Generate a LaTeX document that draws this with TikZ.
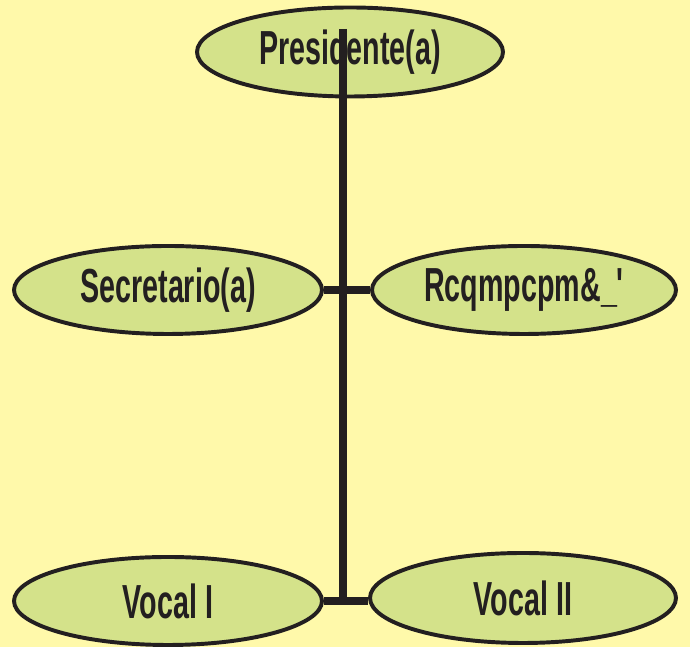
\documentclass[tikz,border=0pt]{standalone}
\usepackage{fontspec}
\newfontfamily\orgfont[FakeStretch=0.6]{Liberation Sans}
\definecolor{bgyellow}{RGB}{255,249,170}
\definecolor{orggreen}{RGB}{212,226,138}
\definecolor{orgline}{RGB}{35,31,32}
\usetikzlibrary{shapes.geometric}

\begin{document}
\begin{tikzpicture}[
    cargo/.style={draw=orgline, line width=2.8pt, fill=orggreen, ellipse, inner sep=0pt,
      minimum width=7.65cm, minimum height=2.2cm, font=\orgfont\fontsize{34}{36}\selectfont\bfseries, text=orgline},
    enlace/.style={draw=orgline, line width=5pt}
  ]
  % Background
  \fill[bgyellow] (0,0) rectangle (17.25,16.175);
  \useasboundingbox (0,0) rectangle (17.25,16.175);

  % Cargos
  \node[cargo, minimum height=2.225cm] (pres) at (8.75,14.875) {Presidente(a)};
  \node[cargo, minimum width=7.7cm] (secr) at (4.2,8.925) {Secretario(a)};
  \node[cargo, minimum width=7.6cm] (teso) at (13.1,8.925) {Rcqmpcpm\&\_'};
  \node[cargo, minimum width=7.7cm] (voca) at (4.2,1.15) {Vocal I};
  \node[cargo, minimum height=2.25cm] (vocb) at (13.075,1.225) {Vocal II};

  % Lines
  \coordinate (arriba) at (8.575,15.45);
  \coordinate (abajo) at (8.575,1.175);
  \draw[enlace] (arriba) -- (abajo);
  \draw[enlace, line width=6pt] (secr.east) -- (teso.west);
  \draw[enlace, line width=6pt] (voca.east) -- (voca.east -| vocb.west);
\end{tikzpicture}
\end{document}
